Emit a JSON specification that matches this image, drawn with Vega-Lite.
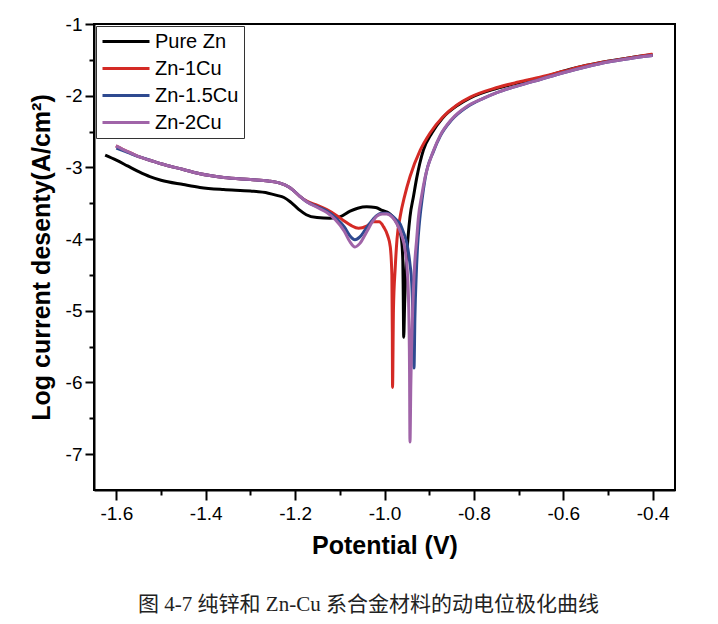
{
  "$schema": "https://vega.github.io/schema/vega-lite/v6.json",
  "width": 581,
  "height": 466,
  "autosize": "none",
  "padding": {"left": 94, "top": 24, "right": 43, "bottom": 134},
  "background": "white",
  "config": {
    "view": {"stroke": "black", "strokeWidth": 2},
    "font": "Liberation Sans"
  },
  "title": {
    "text": "图 4-7  纯锌和 Zn-Cu 系合金材料的动电位极化曲线",
    "orient": "bottom",
    "anchor": "middle",
    "font": "'Liberation Serif', 'Noto Sans CJK SC'",
    "fontSize": 21,
    "fontWeight": "normal",
    "color": "#222222",
    "offset": 36,
    "dx": -16
  },
  "data": {
    "values": [
      {"s": "Pure Zn", "E": -1.625, "logi": -2.83},
      {"s": "Pure Zn", "E": -1.6, "logi": -2.9},
      {"s": "Pure Zn", "E": -1.575, "logi": -2.98},
      {"s": "Pure Zn", "E": -1.55, "logi": -3.06},
      {"s": "Pure Zn", "E": -1.525, "logi": -3.13},
      {"s": "Pure Zn", "E": -1.5, "logi": -3.18},
      {"s": "Pure Zn", "E": -1.45, "logi": -3.24},
      {"s": "Pure Zn", "E": -1.413, "logi": -3.28},
      {"s": "Pure Zn", "E": -1.36, "logi": -3.31},
      {"s": "Pure Zn", "E": -1.3, "logi": -3.33},
      {"s": "Pure Zn", "E": -1.26, "logi": -3.36},
      {"s": "Pure Zn", "E": -1.241, "logi": -3.39},
      {"s": "Pure Zn", "E": -1.225, "logi": -3.42},
      {"s": "Pure Zn", "E": -1.211, "logi": -3.48},
      {"s": "Pure Zn", "E": -1.2, "logi": -3.54},
      {"s": "Pure Zn", "E": -1.189, "logi": -3.6},
      {"s": "Pure Zn", "E": -1.175, "logi": -3.66},
      {"s": "Pure Zn", "E": -1.151, "logi": -3.7},
      {"s": "Pure Zn", "E": -1.122, "logi": -3.71},
      {"s": "Pure Zn", "E": -1.1, "logi": -3.69},
      {"s": "Pure Zn", "E": -1.077, "logi": -3.61},
      {"s": "Pure Zn", "E": -1.06, "logi": -3.57},
      {"s": "Pure Zn", "E": -1.04, "logi": -3.55},
      {"s": "Pure Zn", "E": -1.02, "logi": -3.56},
      {"s": "Pure Zn", "E": -1.005, "logi": -3.6},
      {"s": "Pure Zn", "E": -0.99, "logi": -3.64},
      {"s": "Pure Zn", "E": -0.978, "logi": -3.72},
      {"s": "Pure Zn", "E": -0.968, "logi": -3.84},
      {"s": "Pure Zn", "E": -0.962, "logi": -4.0},
      {"s": "Pure Zn", "E": -0.959, "logi": -4.3},
      {"s": "Pure Zn", "E": -0.958, "logi": -4.8},
      {"s": "Pure Zn", "E": -0.957, "logi": -5.37},
      {"s": "Pure Zn", "E": -0.955, "logi": -4.9},
      {"s": "Pure Zn", "E": -0.951, "logi": -4.3},
      {"s": "Pure Zn", "E": -0.947, "logi": -3.95},
      {"s": "Pure Zn", "E": -0.943, "logi": -3.69},
      {"s": "Pure Zn", "E": -0.935, "logi": -3.4},
      {"s": "Pure Zn", "E": -0.928, "logi": -3.15},
      {"s": "Pure Zn", "E": -0.913, "logi": -2.76},
      {"s": "Pure Zn", "E": -0.894, "logi": -2.52},
      {"s": "Pure Zn", "E": -0.87, "logi": -2.31},
      {"s": "Pure Zn", "E": -0.838, "logi": -2.14},
      {"s": "Pure Zn", "E": -0.808, "logi": -2.03},
      {"s": "Pure Zn", "E": -0.75, "logi": -1.9},
      {"s": "Pure Zn", "E": -0.7, "logi": -1.82},
      {"s": "Pure Zn", "E": -0.65, "logi": -1.75},
      {"s": "Pure Zn", "E": -0.6, "logi": -1.66},
      {"s": "Pure Zn", "E": -0.55, "logi": -1.58},
      {"s": "Pure Zn", "E": -0.5, "logi": -1.52},
      {"s": "Pure Zn", "E": -0.45, "logi": -1.47},
      {"s": "Pure Zn", "E": -0.4, "logi": -1.43},

      {"s": "Zn-1Cu", "E": -1.601, "logi": -2.7},
      {"s": "Zn-1Cu", "E": -1.575, "logi": -2.78},
      {"s": "Zn-1Cu", "E": -1.55, "logi": -2.85},
      {"s": "Zn-1Cu", "E": -1.525, "logi": -2.9},
      {"s": "Zn-1Cu", "E": -1.5, "logi": -2.95},
      {"s": "Zn-1Cu", "E": -1.45, "logi": -3.03},
      {"s": "Zn-1Cu", "E": -1.413, "logi": -3.09},
      {"s": "Zn-1Cu", "E": -1.36, "logi": -3.14},
      {"s": "Zn-1Cu", "E": -1.3, "logi": -3.17},
      {"s": "Zn-1Cu", "E": -1.26, "logi": -3.19},
      {"s": "Zn-1Cu", "E": -1.234, "logi": -3.22},
      {"s": "Zn-1Cu", "E": -1.215, "logi": -3.27},
      {"s": "Zn-1Cu", "E": -1.204, "logi": -3.32},
      {"s": "Zn-1Cu", "E": -1.19, "logi": -3.4},
      {"s": "Zn-1Cu", "E": -1.174, "logi": -3.47},
      {"s": "Zn-1Cu", "E": -1.15, "logi": -3.53},
      {"s": "Zn-1Cu", "E": -1.129, "logi": -3.59},
      {"s": "Zn-1Cu", "E": -1.11, "logi": -3.66},
      {"s": "Zn-1Cu", "E": -1.092, "logi": -3.74},
      {"s": "Zn-1Cu", "E": -1.075, "logi": -3.81},
      {"s": "Zn-1Cu", "E": -1.058, "logi": -3.85},
      {"s": "Zn-1Cu", "E": -1.04, "logi": -3.82},
      {"s": "Zn-1Cu", "E": -1.025, "logi": -3.76},
      {"s": "Zn-1Cu", "E": -1.012, "logi": -3.76},
      {"s": "Zn-1Cu", "E": -1.002, "logi": -3.83},
      {"s": "Zn-1Cu", "E": -0.993, "logi": -3.95},
      {"s": "Zn-1Cu", "E": -0.987, "logi": -4.11},
      {"s": "Zn-1Cu", "E": -0.9835, "logi": -4.5},
      {"s": "Zn-1Cu", "E": -0.9825, "logi": -5.3},
      {"s": "Zn-1Cu", "E": -0.982, "logi": -6.07},
      {"s": "Zn-1Cu", "E": -0.98, "logi": -5.0},
      {"s": "Zn-1Cu", "E": -0.976, "logi": -4.4},
      {"s": "Zn-1Cu", "E": -0.972, "logi": -4.0},
      {"s": "Zn-1Cu", "E": -0.965, "logi": -3.69},
      {"s": "Zn-1Cu", "E": -0.955, "logi": -3.4},
      {"s": "Zn-1Cu", "E": -0.943, "logi": -3.13},
      {"s": "Zn-1Cu", "E": -0.92, "logi": -2.76},
      {"s": "Zn-1Cu", "E": -0.898, "logi": -2.52},
      {"s": "Zn-1Cu", "E": -0.87, "logi": -2.3},
      {"s": "Zn-1Cu", "E": -0.838, "logi": -2.13},
      {"s": "Zn-1Cu", "E": -0.808, "logi": -2.02},
      {"s": "Zn-1Cu", "E": -0.75, "logi": -1.89},
      {"s": "Zn-1Cu", "E": -0.7, "logi": -1.81},
      {"s": "Zn-1Cu", "E": -0.65, "logi": -1.74},
      {"s": "Zn-1Cu", "E": -0.6, "logi": -1.66},
      {"s": "Zn-1Cu", "E": -0.55, "logi": -1.58},
      {"s": "Zn-1Cu", "E": -0.5, "logi": -1.52},
      {"s": "Zn-1Cu", "E": -0.45, "logi": -1.47},
      {"s": "Zn-1Cu", "E": -0.4, "logi": -1.42},

      {"s": "Zn-1.5Cu", "E": -1.6, "logi": -2.73},
      {"s": "Zn-1.5Cu", "E": -1.575, "logi": -2.79},
      {"s": "Zn-1.5Cu", "E": -1.55, "logi": -2.85},
      {"s": "Zn-1.5Cu", "E": -1.525, "logi": -2.9},
      {"s": "Zn-1.5Cu", "E": -1.5, "logi": -2.95},
      {"s": "Zn-1.5Cu", "E": -1.45, "logi": -3.03},
      {"s": "Zn-1.5Cu", "E": -1.413, "logi": -3.09},
      {"s": "Zn-1.5Cu", "E": -1.36, "logi": -3.14},
      {"s": "Zn-1.5Cu", "E": -1.3, "logi": -3.17},
      {"s": "Zn-1.5Cu", "E": -1.26, "logi": -3.19},
      {"s": "Zn-1.5Cu", "E": -1.234, "logi": -3.22},
      {"s": "Zn-1.5Cu", "E": -1.215, "logi": -3.27},
      {"s": "Zn-1.5Cu", "E": -1.204, "logi": -3.32},
      {"s": "Zn-1.5Cu", "E": -1.19, "logi": -3.4},
      {"s": "Zn-1.5Cu", "E": -1.174, "logi": -3.48},
      {"s": "Zn-1.5Cu", "E": -1.15, "logi": -3.55},
      {"s": "Zn-1.5Cu", "E": -1.129, "logi": -3.61},
      {"s": "Zn-1.5Cu", "E": -1.11, "logi": -3.7},
      {"s": "Zn-1.5Cu", "E": -1.09, "logi": -3.83},
      {"s": "Zn-1.5Cu", "E": -1.078, "logi": -3.95},
      {"s": "Zn-1.5Cu", "E": -1.066, "logi": -4.01},
      {"s": "Zn-1.5Cu", "E": -1.055, "logi": -3.97},
      {"s": "Zn-1.5Cu", "E": -1.04, "logi": -3.84},
      {"s": "Zn-1.5Cu", "E": -1.025, "logi": -3.72},
      {"s": "Zn-1.5Cu", "E": -1.017, "logi": -3.67},
      {"s": "Zn-1.5Cu", "E": -1.005, "logi": -3.64},
      {"s": "Zn-1.5Cu", "E": -0.995, "logi": -3.64},
      {"s": "Zn-1.5Cu", "E": -0.982, "logi": -3.68},
      {"s": "Zn-1.5Cu", "E": -0.972, "logi": -3.74},
      {"s": "Zn-1.5Cu", "E": -0.965, "logi": -3.79},
      {"s": "Zn-1.5Cu", "E": -0.958, "logi": -3.9},
      {"s": "Zn-1.5Cu", "E": -0.95, "logi": -4.06},
      {"s": "Zn-1.5Cu", "E": -0.943, "logi": -4.35},
      {"s": "Zn-1.5Cu", "E": -0.939, "logi": -4.62},
      {"s": "Zn-1.5Cu", "E": -0.936, "logi": -5.2},
      {"s": "Zn-1.5Cu", "E": -0.934, "logi": -5.8},
      {"s": "Zn-1.5Cu", "E": -0.932, "logi": -5.1},
      {"s": "Zn-1.5Cu", "E": -0.929, "logi": -4.5},
      {"s": "Zn-1.5Cu", "E": -0.926, "logi": -4.1},
      {"s": "Zn-1.5Cu", "E": -0.922, "logi": -3.78},
      {"s": "Zn-1.5Cu", "E": -0.916, "logi": -3.45},
      {"s": "Zn-1.5Cu", "E": -0.909, "logi": -3.15},
      {"s": "Zn-1.5Cu", "E": -0.89, "logi": -2.77},
      {"s": "Zn-1.5Cu", "E": -0.875, "logi": -2.56},
      {"s": "Zn-1.5Cu", "E": -0.85, "logi": -2.34},
      {"s": "Zn-1.5Cu", "E": -0.816, "logi": -2.16},
      {"s": "Zn-1.5Cu", "E": -0.78, "logi": -2.04},
      {"s": "Zn-1.5Cu", "E": -0.75, "logi": -1.96},
      {"s": "Zn-1.5Cu", "E": -0.7, "logi": -1.86},
      {"s": "Zn-1.5Cu", "E": -0.65, "logi": -1.77},
      {"s": "Zn-1.5Cu", "E": -0.6, "logi": -1.68},
      {"s": "Zn-1.5Cu", "E": -0.55, "logi": -1.6},
      {"s": "Zn-1.5Cu", "E": -0.5, "logi": -1.53},
      {"s": "Zn-1.5Cu", "E": -0.45, "logi": -1.48},
      {"s": "Zn-1.5Cu", "E": -0.4, "logi": -1.44},

      {"s": "Zn-2Cu", "E": -1.601, "logi": -2.7},
      {"s": "Zn-2Cu", "E": -1.575, "logi": -2.78},
      {"s": "Zn-2Cu", "E": -1.55, "logi": -2.85},
      {"s": "Zn-2Cu", "E": -1.525, "logi": -2.9},
      {"s": "Zn-2Cu", "E": -1.5, "logi": -2.95},
      {"s": "Zn-2Cu", "E": -1.45, "logi": -3.03},
      {"s": "Zn-2Cu", "E": -1.413, "logi": -3.09},
      {"s": "Zn-2Cu", "E": -1.36, "logi": -3.14},
      {"s": "Zn-2Cu", "E": -1.3, "logi": -3.17},
      {"s": "Zn-2Cu", "E": -1.26, "logi": -3.19},
      {"s": "Zn-2Cu", "E": -1.234, "logi": -3.22},
      {"s": "Zn-2Cu", "E": -1.215, "logi": -3.27},
      {"s": "Zn-2Cu", "E": -1.204, "logi": -3.32},
      {"s": "Zn-2Cu", "E": -1.19, "logi": -3.4},
      {"s": "Zn-2Cu", "E": -1.174, "logi": -3.48},
      {"s": "Zn-2Cu", "E": -1.15, "logi": -3.56},
      {"s": "Zn-2Cu", "E": -1.129, "logi": -3.63},
      {"s": "Zn-2Cu", "E": -1.11, "logi": -3.73},
      {"s": "Zn-2Cu", "E": -1.09, "logi": -3.89},
      {"s": "Zn-2Cu", "E": -1.078, "logi": -4.03},
      {"s": "Zn-2Cu", "E": -1.066, "logi": -4.11},
      {"s": "Zn-2Cu", "E": -1.055, "logi": -4.06},
      {"s": "Zn-2Cu", "E": -1.04, "logi": -3.9},
      {"s": "Zn-2Cu", "E": -1.025, "logi": -3.74},
      {"s": "Zn-2Cu", "E": -1.017, "logi": -3.68},
      {"s": "Zn-2Cu", "E": -1.005, "logi": -3.65},
      {"s": "Zn-2Cu", "E": -0.995, "logi": -3.65},
      {"s": "Zn-2Cu", "E": -0.982, "logi": -3.7},
      {"s": "Zn-2Cu", "E": -0.972, "logi": -3.79},
      {"s": "Zn-2Cu", "E": -0.962, "logi": -3.94},
      {"s": "Zn-2Cu", "E": -0.954, "logi": -4.15},
      {"s": "Zn-2Cu", "E": -0.949, "logi": -4.45},
      {"s": "Zn-2Cu", "E": -0.946, "logi": -4.9},
      {"s": "Zn-2Cu", "E": -0.944, "logi": -5.8},
      {"s": "Zn-2Cu", "E": -0.943, "logi": -6.83},
      {"s": "Zn-2Cu", "E": -0.941, "logi": -6.0},
      {"s": "Zn-2Cu", "E": -0.937, "logi": -5.0},
      {"s": "Zn-2Cu", "E": -0.933, "logi": -4.4},
      {"s": "Zn-2Cu", "E": -0.928, "logi": -4.0},
      {"s": "Zn-2Cu", "E": -0.924, "logi": -3.69},
      {"s": "Zn-2Cu", "E": -0.917, "logi": -3.4},
      {"s": "Zn-2Cu", "E": -0.909, "logi": -3.13},
      {"s": "Zn-2Cu", "E": -0.89, "logi": -2.76},
      {"s": "Zn-2Cu", "E": -0.875, "logi": -2.55},
      {"s": "Zn-2Cu", "E": -0.85, "logi": -2.33},
      {"s": "Zn-2Cu", "E": -0.816, "logi": -2.15},
      {"s": "Zn-2Cu", "E": -0.78, "logi": -2.04},
      {"s": "Zn-2Cu", "E": -0.75, "logi": -1.96},
      {"s": "Zn-2Cu", "E": -0.7, "logi": -1.86},
      {"s": "Zn-2Cu", "E": -0.65, "logi": -1.77},
      {"s": "Zn-2Cu", "E": -0.6, "logi": -1.68},
      {"s": "Zn-2Cu", "E": -0.55, "logi": -1.6},
      {"s": "Zn-2Cu", "E": -0.5, "logi": -1.53},
      {"s": "Zn-2Cu", "E": -0.45, "logi": -1.48},
      {"s": "Zn-2Cu", "E": -0.4, "logi": -1.44}
    ]
  },
  "mark": {"type": "line", "strokeWidth": 3, "interpolate": "monotone", "clip": true},
  "encoding": {
    "x": {
      "field": "E",
      "type": "quantitative",
      "scale": {"domain": [-1.65, -0.35], "nice": false, "zero": false},
      "axis": {
        "title": "Potential (V)",
        "titleFontSize": 25,
        "titleFontWeight": "bold",
        "titleColor": "black",
        "titlePadding": 10,
        "values": [-1.6, -1.5, -1.4, -1.3, -1.2, -1.1, -1.0, -0.9, -0.8, -0.7, -0.6, -0.5, -0.4],
        "labelExpr": "abs(round(datum.value*10)) % 2 == 0 ? replace(format(datum.value, '.1f'), '\u2212', '-') : ''",
        "labelFontSize": 19,
        "labelColor": "black",
        "labelPadding": 4,
        "labelFlush": false,
        "labelOverlap": false,
        "grid": false,
        "domainColor": "black",
        "domainWidth": 2,
        "tickColor": "black",
        "tickWidth": 2,
        "tickSize": {"condition": {"test": "abs(round(datum.value*10)) % 2 == 1", "value": 5}, "value": 10}
      }
    },
    "y": {
      "field": "logi",
      "type": "quantitative",
      "scale": {"domain": [-7.5, -1], "nice": false, "zero": false},
      "axis": {
        "title": "Log current desenty(A/cm²)",
        "titleFontSize": 25,
        "titleFontWeight": "bold",
        "titleColor": "black",
        "titlePadding": 11,
        "values": [-7, -6.5, -6, -5.5, -5, -4.5, -4, -3.5, -3, -2.5, -2, -1.5, -1],
        "labelExpr": "datum.value == round(datum.value) ? replace(format(datum.value, 'd'), '\u2212', '-') : ''",
        "labelFontSize": 19,
        "labelColor": "black",
        "labelPadding": 3,
        "labelFlush": false,
        "labelOverlap": false,
        "grid": false,
        "domainColor": "black",
        "domainWidth": 2,
        "tickColor": "black",
        "tickWidth": 2,
        "tickSize": {"condition": {"test": "datum.value != round(datum.value)", "value": 5}, "value": 9}
      }
    },
    "color": {
      "field": "s",
      "type": "nominal",
      "scale": {
        "domain": ["Pure Zn", "Zn-1Cu", "Zn-1.5Cu", "Zn-2Cu"],
        "range": ["#000000", "#d42a25", "#2e4a90", "#a064a8"]
      },
      "legend": {
        "title": null,
        "orient": "top-left",
        "offset": 2,
        "padding": 5,
        "strokeColor": "#333333",
        "fillColor": "white",
        "symbolType": "stroke",
        "symbolSize": 2209,
        "symbolStrokeWidth": 3,
        "clipHeight": 21,
        "labelFontSize": 20,
        "labelColor": "black",
        "labelOffset": 4,
        "rowPadding": 6,
        "labelLimit": 300
      }
    }
  }
}
